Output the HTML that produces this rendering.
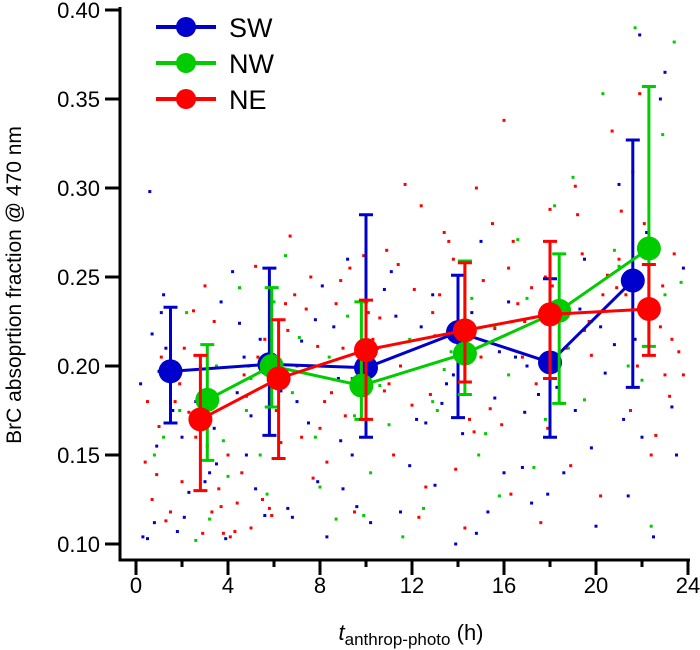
<!DOCTYPE html>
<html><head><meta charset="utf-8">
<style>
body{margin:0;background:#fff;}
svg{display:block;font-family:"Liberation Sans",Arial,sans-serif;}
</style></head>
<body>
<svg id="chart" width="700" height="650" viewBox="0 0 700 650" xmlns="http://www.w3.org/2000/svg">
<g id="dots"></g>
<g id="series"></g>
<g id="axes"></g>
<g id="legend"></g>
<text transform="translate(21,285) rotate(-90)" text-anchor="middle" font-size="21">BrC absoprtion fraction @ 470 nm</text>
<text x="411" y="640" text-anchor="middle" font-size="22"><tspan font-style="italic">t</tspan><tspan font-size="17" dy="5">anthrop-photo</tspan><tspan dy="-5"> (h)</tspan></text>
</svg>
<script>
const xTicks=[0,4,8,12,16,20,24];
const yTicks=[0.10,0.15,0.20,0.25,0.30,0.35,0.40];
const names=["SW","NW","NE"];
const colors=["#0000cc","#00cc00","#ff0000"];
const swX=[1.5,5.8,10.0,14.0,18.0,21.6];
const swY=[0.197,0.201,0.199,0.219,0.202,0.248];
const swLo=[0.168,0.161,0.160,0.171,0.160,0.188];
const swHi=[0.233,0.255,0.285,0.251,0.249,0.327];
const nwX=[3.1,5.9,9.8,14.3,18.4,22.3];
const nwY=[0.181,0.200,0.189,0.207,0.231,0.266];
const nwLo=[0.147,0.177,0.170,0.184,0.179,0.211];
const nwHi=[0.212,0.244,0.236,0.259,0.263,0.357];
const neX=[2.8,6.2,10.0,14.3,18.0,22.3];
const neY=[0.170,0.193,0.209,0.220,0.229,0.232];
const neLo=[0.130,0.148,0.170,0.191,0.193,0.206];
const neHi=[0.206,0.226,0.237,0.258,0.270,0.257];
const swDotX=[0.3,0.5,0.8,1.0,1.3,1.8,2.3,2.6,3.0,3.4,3.9,4.5,4.8,5.2,5.6,6.3,6.8,7.2,7.8,8.3,8.8,9.2,9.6,10.2,10.8,11.5,11.9,12.4,13.0,13.5,13.9,14.2,14.8,15.3,15.8,16.2,16.8,17.2,17.9,18.6,19.1,19.5,20.0,20.4,21.0,21.4,21.9,22.5,22.8,23.3,0.6,2.1,4.2,7.5,9.0,12.9,15.0,17.5,20.8,23.0,1.2,3.5,6.0,8.6,11.1,13.3,16.5,19.8,22.2,0.9,0.2,0.7,1.1,1.6,2.0,2.8,3.2,3.7,4.4,5.0,5.4,6.6,7.0,7.9,8.1,9.4,10.5,11.3,12.2,13.8,14.6,15.6,16.0,17.0,18.3,19.3,20.2,21.2,21.7,22.0,23.5,23.8,4.7,8.9,12.6,16.9];
const swDotY=[0.104,0.103,0.112,0.197,0.210,0.107,0.129,0.180,0.135,0.165,0.103,0.224,0.150,0.131,0.116,0.186,0.115,0.214,0.226,0.104,0.193,0.260,0.121,0.112,0.243,0.118,0.144,0.222,0.133,0.190,0.100,0.162,0.106,0.118,0.208,0.236,0.143,0.123,0.128,0.140,0.175,0.260,0.110,0.196,0.302,0.127,0.386,0.104,0.350,0.177,0.298,0.115,0.253,0.168,0.131,0.240,0.270,0.184,0.212,0.365,0.240,0.145,0.198,0.222,0.253,0.179,0.205,0.154,0.275,0.155,0.190,0.218,0.230,0.175,0.160,0.200,0.140,0.236,0.185,0.172,0.215,0.120,0.180,0.135,0.245,0.150,0.210,0.228,0.170,0.195,0.230,0.182,0.140,0.200,0.188,0.232,0.222,0.170,0.215,0.160,0.150,0.255,0.205,0.158,0.168,0.174];
const nwDotX=[1.9,2.6,3.2,3.8,4.5,5.0,5.7,6.5,7.1,8.0,8.7,9.2,9.9,10.6,11.6,12.5,13.1,13.7,14.6,15.2,15.8,16.6,17.3,18.2,18.8,19.5,20.3,21.0,21.7,22.4,22.9,23.4,4.0,7.5,11.0,15.6,19.0,22.0,23.7,6.0,1.2,2.2,3.5,4.8,5.4,6.8,7.8,8.4,9.5,10.2,11.9,12.9,13.4,14.9,16.2,17.0,17.8,19.8,20.8,21.4,23.0,0.8];
const nwDotY=[0.175,0.102,0.114,0.158,0.244,0.193,0.128,0.262,0.216,0.132,0.114,0.228,0.116,0.189,0.104,0.120,0.175,0.208,0.238,0.162,0.127,0.271,0.143,0.290,0.210,0.181,0.353,0.256,0.390,0.110,0.330,0.382,0.138,0.199,0.167,0.222,0.306,0.192,0.247,0.236,0.160,0.230,0.200,0.175,0.150,0.185,0.160,0.205,0.172,0.140,0.215,0.180,0.198,0.150,0.195,0.238,0.170,0.225,0.265,0.200,0.240,0.150];
const neDotX=[0.4,0.7,1.0,1.3,1.7,2.0,2.5,2.9,3.3,3.6,3.8,4.1,4.4,4.8,5.2,5.5,5.9,6.3,6.7,7.0,7.4,7.9,8.3,8.7,9.1,9.5,9.9,10.3,10.8,11.2,11.7,12.1,12.6,13.0,13.4,13.9,14.3,14.7,15.1,15.6,16.0,16.3,16.8,17.2,17.6,18.0,18.5,18.9,19.4,19.8,20.2,20.7,21.1,21.5,21.9,22.4,22.8,23.2,23.6,0.9,1.5,2.3,3.1,4.6,5.8,6.9,8.0,9.4,10.6,11.4,12.8,14.0,15.4,16.6,17.9,19.1,20.5,21.6,22.6,23.4,3.7,4.3,5.0,7.7,8.9,12.3,13.6,15.9,18.3,20.9,0.5,1.1,1.9,2.6,3.4,4.0,4.9,5.6,6.1,6.5,7.2,7.6,8.5,9.0,9.7,10.1,10.9,11.5,12.0,12.4,13.2,13.8,14.5,15.0,15.5,16.2,16.9,17.4,18.1,18.7,19.2,19.7,20.3,21.0,21.8,22.1,22.9,23.3,23.8,2.1,3.0,4.7,5.3,6.6,8.2,9.3,11.0,12.9,14.8,16.4,17.8,19.5,21.3,23.0];
const neDotY=[0.146,0.125,0.166,0.113,0.180,0.135,0.231,0.106,0.118,0.131,0.106,0.104,0.123,0.183,0.256,0.125,0.116,0.157,0.273,0.200,0.232,0.211,0.146,0.235,0.172,0.118,0.262,0.215,0.186,0.150,0.302,0.243,0.132,0.217,0.275,0.142,0.109,0.163,0.248,0.221,0.338,0.128,0.205,0.244,0.112,0.288,0.179,0.144,0.263,0.206,0.127,0.332,0.287,0.175,0.353,0.150,0.222,0.183,0.208,0.139,0.118,0.174,0.155,0.140,0.120,0.240,0.165,0.193,0.227,0.257,0.184,0.200,0.176,0.235,0.165,0.301,0.251,0.309,0.161,0.263,0.121,0.107,0.109,0.137,0.248,0.115,0.270,0.167,0.226,0.244,0.180,0.205,0.190,0.160,0.225,0.150,0.200,0.215,0.175,0.235,0.160,0.250,0.185,0.210,0.195,0.230,0.265,0.200,0.178,0.290,0.240,0.260,0.170,0.205,0.280,0.255,0.225,0.190,0.245,0.210,0.285,0.225,0.240,0.260,0.200,0.280,0.245,0.215,0.195,0.210,0.245,0.195,0.205,0.220,0.180,0.255,0.190,0.230,0.300,0.270,0.250,0.220,0.240,0.195];

const X0=136,PX=23,Y0=10,PY=1780;
function sx(v){return X0+v*PX;}
function sy(v){return Y0+(0.40-v)*PY;}
const NS="http://www.w3.org/2000/svg";
function mk(tag,parent,attrs){const e=document.createElementNS(NS,tag);for(const k in attrs)e.setAttribute(k,attrs[k]);parent.appendChild(e);return e;}

const dots=document.getElementById('dots');
const dotSets=[[swDotX,swDotY],[nwDotX,nwDotY],[neDotX,neDotY]];
dotSets.forEach((s,si)=>{
  s[0].forEach((xv,i)=>{
    const r=mk('rect',dots,{x:sx(xv)-1.5,y:sy(s[1][i])-1.5,width:3,height:3,fill:colors[si]});
    
    
  });
});

const series=document.getElementById('series');
const sets=[[swX,swY,swLo,swHi],[nwX,nwY,nwLo,nwHi],[neX,neY,neLo,neHi]];
sets.forEach((s,si)=>{
  const g=mk('g',series,{});
  
  
  const pts=s[0].map((xv,i)=>sx(xv)+','+sy(s[1][i])).join(' ');
  const pl=mk('polyline',g,{points:pts,fill:'none',stroke:colors[si],'stroke-width':3});
  
  
  s[0].forEach((xv,i)=>{
    const x=sx(xv),lo=sy(s[2][i]),hi=sy(s[3][i]);
    const eb=mk('path',g,{d:`M${x},${lo}V${hi}M${x-7},${lo}H${x+7}M${x-7},${hi}H${x+7}`,stroke:colors[si],'stroke-width':3,fill:'none'});
    
    
  });
  s[0].forEach((xv,i)=>{
    const c=mk('circle',g,{cx:sx(xv),cy:sy(s[1][i]),r:12,fill:colors[si]});
    
    
  });
});

const axes=document.getElementById('axes');
const ax=mk('path',axes,{d:'M120,7V560H690',stroke:'#000','stroke-width':3,fill:'none'});


for(let v=0;v<=24;v+=2){
  const major=v%4===0;
  const t=mk('line',axes,{x1:sx(v),x2:sx(v),y1:560,y2:major?575:567,stroke:'#000','stroke-width':3});
  
  
}
xTicks.forEach(v=>{
  const t=mk('text',axes,{x:sx(v),y:593,'text-anchor':'middle','font-size':22});
  t.textContent=v;
  
  
});
yTicks.forEach(v=>{
  const y=sy(v);
  const t=mk('line',axes,{x1:105,x2:120,y1:y,y2:y,stroke:'#000','stroke-width':3});
  
  
  const l=mk('text',axes,{x:100,y:y+8,'text-anchor':'end','font-size':22});
  l.textContent=v.toFixed(2);
  
  
});

const legend=document.getElementById('legend');
names.forEach((n,i)=>{
  const y=27+i*36;
  const g=mk('g',legend,{});
  
  
  mk('line',g,{x1:156,x2:216,y1:y,y2:y,stroke:colors[i],'stroke-width':4});
  mk('circle',g,{cx:186,cy:y,r:10,fill:colors[i]});
  const t=mk('text',g,{x:229,y:y+10,'font-size':27});
  t.textContent=n;
});
</script>
</body></html>
